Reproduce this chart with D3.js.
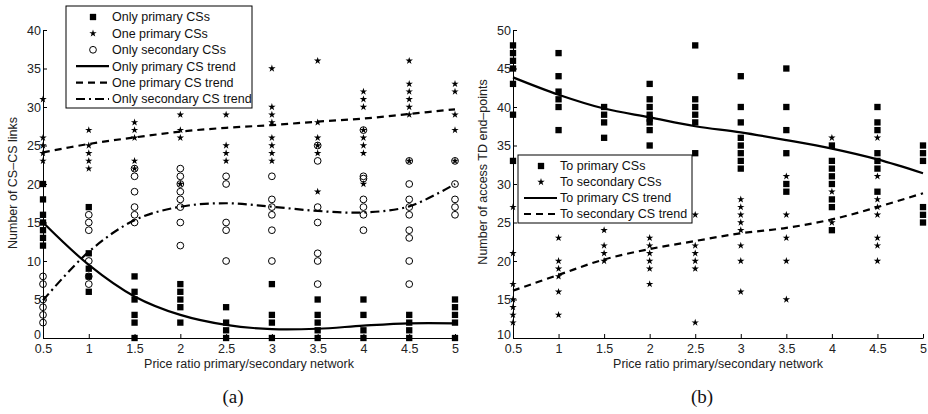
<!DOCTYPE html>
<html>
<head>
<meta charset="utf-8">
<script src="https://cdn.jsdelivr.net/npm/d3@7"></script>
<style>
  body { margin: 0; background: #fff; }
</style>
</head>
<body>
<script>
var xs = [0.5, 1, 1.5, 2, 2.5, 3, 3.5, 4, 4.5, 5];

// (a) points: one array of values per x
var onlyPrimary = [
  [20, 18, 16, 15, 14, 13, 12],
  [17, 11, 9, 8, 6],
  [8, 6, 5, 3, 2, 0],
  [7, 6, 5, 4, 2],
  [4, 2, 1, 0],
  [7, 3, 2, 0],
  [5, 3, 2, 1, 0],
  [5, 3, 1, 0],
  [3, 2, 1, 0],
  [5, 4, 3, 2, 0]
];
var onePrimary = [
  [31, 26, 25, 24, 23],
  [27, 25, 24, 23, 22],
  [28, 27, 26, 23, 22],
  [29, 27, 26, 20],
  [29, 25, 24, 23],
  [35, 30, 29, 28, 26, 25, 24, 23],
  [36, 28, 26, 25, 24, 19],
  [32, 31, 30, 27, 26, 25, 24, 20],
  [36, 33, 32, 31, 30, 29, 23],
  [33, 32, 29, 27, 23]
];
var onlySecondary = [
  [8, 7, 5, 4, 3, 2],
  [16, 15, 14, 10, 8, 7],
  [22, 21, 19, 17, 16, 15],
  [22, 21, 20, 19, 18, 17, 15, 12],
  [21, 20, 15, 14, 10],
  [21, 18, 17, 16, 14, 10],
  [25, 23, 17, 15, 11, 10, 7],
  [27, 21, 20.7, 18, 17, 16, 14],
  [23, 20, 18, 17, 16, 14, 13, 10, 7],
  [23, 20, 18, 17, 16]
];
var onlyPrimaryTrend = [15, 9.5, 5.4, 3.0, 1.7, 1.15, 1.2, 1.6, 1.9, 1.9];
var onePrimaryTrend = [24.1, 25.2, 26.05, 26.8, 27.3, 27.65, 28.1, 28.5, 29.1, 29.7];
var onlySecondaryTrend = [4.9, 11.2, 15.3, 17.05, 17.5, 17.05, 16.5, 16.3, 17.1, 20.0];

// (b) points
var toPrimary = [
  [48, 47, 46, 45, 43, 39, 33],
  [47, 44, 42, 41, 40, 37],
  [40, 39, 38, 36],
  [43, 41, 40, 39, 38.5, 38, 37, 35],
  [48, 41, 40, 39, 38, 34],
  [44, 40, 38, 36, 35, 34, 33, 32],
  [45, 40, 37, 34, 30, 29],
  [35, 33, 32, 31, 30, 28, 27, 24],
  [40, 38, 37, 34, 33, 32, 29],
  [35, 34, 33, 27, 26, 25]
];
var toSecondary = [
  [27, 21, 17, 15, 14, 13, 12],
  [23, 20, 19, 18, 16, 13],
  [24, 22, 21, 20],
  [23, 22, 21, 20, 19, 17],
  [26, 22, 21, 20, 19, 12],
  [28, 27, 26, 25, 24, 22, 20, 16],
  [31, 26, 23, 20, 15],
  [36, 29, 25],
  [36, 31, 28, 27, 26, 23, 22, 20],
  []
];
var toPrimaryTrend = [43.85, 41.6, 39.8, 38.65, 37.5, 36.7, 35.7, 34.6, 33.2, 31.4];
var toSecondaryTrend = [16.15, 18.2, 20.2, 21.55, 22.6, 23.6, 24.3, 25.4, 27.0, 28.8];

var xTicks = [0.5, 1, 1.5, 2, 2.5, 3, 3.5, 4, 4.5, 5];
var yTicksA = [0, 5, 10, 15, 20, 25, 30, 35, 40];
var yTicksB = [10, 15, 20, 25, 30, 35, 40, 45, 50];

var sans = "Liberation Sans, Arial, sans-serif";

var svg = d3.select("body").append("svg")
    .attr("width", 928)
    .attr("height", 414)
    .attr("font-family", sans);

function flatten(groups) {
  var out = [];
  groups.forEach(function(g, i) {
    g.forEach(function(v) { out.push({x: xs[i], y: v}); });
  });
  return out;
}

function makePanel(o) {
  var x = d3.scaleLinear().domain([0.5, 5]).range([o.left, o.right]);
  var y = d3.scaleLinear().domain(o.yDomain).range([338, 30]);
  var g = svg.append("g");

  var xAxis = g.append("g")
      .attr("transform", "translate(0,338)")
      .call(d3.axisBottom(x).tickValues(xTicks).tickSizeInner(-4).tickSizeOuter(0)
        .tickFormat(d3.format("")));
  var yAxis = g.append("g")
      .attr("transform", "translate(" + o.left + ",0)")
      .call(d3.axisLeft(y).tickValues(o.yTicks).tickSizeInner(-4).tickSizeOuter(0));
  [xAxis, yAxis].forEach(function(a) {
    a.attr("font-family", sans);
    a.select(".domain").attr("stroke", "#000");
    a.selectAll(".tick line").attr("stroke", "#000");
    a.selectAll("text").attr("font-size", 12.5).attr("fill", "#222");
  });
  xAxis.selectAll("text").attr("y", 6).attr("dy", "0.71em");
  yAxis.selectAll("text").attr("x", -2);
  // lowest y label sits a little higher, as in the original
  yAxis.selectAll("text").filter(function(d) { return d === o.yDomain[0]; })
      .attr("dy", "0.05em");

  g.append("text")
      .attr("x", (o.left + o.right) / 2)
      .attr("y", 368)
      .attr("text-anchor", "middle")
      .attr("font-size", 12.5)
      .attr("fill", "#222")
      .text("Price ratio primary/secondary network");

  g.append("text")
      .attr("transform", "translate(" + (o.left - 26) + "," + o.titleY + ") rotate(-90)")
      .attr("text-anchor", "middle")
      .attr("font-size", 12.5)
      .attr("fill", "#222")
      .text(o.yTitle);

  g.append("text")
      .attr("x", (o.left + o.right) / 2 - 16)
      .attr("y", 403)
      .attr("text-anchor", "middle")
      .style("font-family", "'Liberation Serif', 'DejaVu Serif', serif")
      .attr("font-size", 19)
      .attr("fill", "#111")
      .text(o.caption);

  o.scatters.forEach(function(s) {
    drawMarks(g, flatten(s.data), s.kind, x, y);
  });

  o.trends.forEach(function(t) {
    var line = d3.line()
        .x(function(d, i) { return x(xs[i]); })
        .y(function(d) { return y(d); })
        .curve(d3.curveCatmullRom.alpha(0.5));
    g.append("path")
        .datum(t.data)
        .attr("fill", "none")
        .attr("stroke", "#000")
        .attr("stroke-width", 2.2)
        .attr("stroke-dasharray", t.dash)
        .attr("d", line);
  });

  // legend
  var lg = g.append("g");
  lg.append("rect")
      .attr("x", o.legend.x).attr("y", o.legend.y)
      .attr("width", o.legend.w).attr("height", o.legend.h)
      .attr("fill", "#fff").attr("stroke", "#000").attr("stroke-width", 1);
  o.legend.items.forEach(function(it, i) {
    var cy = o.legend.y + 11 + i * o.legend.step;
    var sx = o.legend.x + o.legend.symX;
    if (it.kind) {
      drawMarks(lg, [{x: 0, y: 0}], it.kind,
        function() { return sx; }, function() { return cy; });
    } else {
      lg.append("line")
          .attr("x1", sx - 17).attr("x2", sx + 16)
          .attr("y1", cy).attr("y2", cy)
          .attr("stroke", "#000").attr("stroke-width", 2.2)
          .attr("stroke-dasharray", it.dash);
    }
    lg.append("text")
        .attr("x", sx + 19)
        .attr("y", cy)
        .attr("dy", "0.35em")
        .attr("font-size", 12.5)
        .attr("fill", "#111")
        .text(it.label);
  });
}

function drawMarks(g, pts, kind, x, y) {
  var sel = g.append("g").selectAll("path").data(pts).enter().append("path")
      .attr("transform", function(d) { return "translate(" + x(d.x) + "," + y(d.y) + ")"; });
  if (kind === "square") {
    sel.attr("d", d3.symbol().type(d3.symbolSquare).size(40)).attr("fill", "#000");
  } else if (kind === "star") {
    sel.attr("d", d3.symbol().type(d3.symbolStar).size(17)).attr("fill", "#000");
  } else {
    sel.attr("d", d3.symbol().type(d3.symbolCircle).size(36))
       .attr("fill", "none").attr("stroke", "#000").attr("stroke-width", 1);
  }
}

makePanel({
  left: 43, right: 455,
  yDomain: [0, 40], yTicks: yTicksA,
  yTitle: "Number of CS\u2013CS links", titleY: 183,
  caption: "(a)",
  scatters: [
    {data: onlyPrimary, kind: "square"},
    {data: onePrimary, kind: "star"},
    {data: onlySecondary, kind: "circle"}
  ],
  trends: [
    {data: onlyPrimaryTrend, dash: null},
    {data: onePrimaryTrend, dash: "7,5"},
    {data: onlySecondaryTrend, dash: "9,4,2,4"}
  ],
  legend: {
    x: 66, y: 6, w: 186, h: 102, step: 16.4, symX: 27,
    items: [
      {label: "Only primary CSs", kind: "square"},
      {label: "One primary CSs", kind: "star"},
      {label: "Only secondary CSs", kind: "circle"},
      {label: "Only primary CS trend", dash: null},
      {label: "One primary CS trend", dash: "7,5"},
      {label: "Only secondary CS trend", dash: "9,4,2,4"}
    ]
  }
});

makePanel({
  left: 513, right: 923,
  yDomain: [10, 50], yTicks: yTicksB,
  yTitle: "Number of access TD end\u2013points", titleY: 172,
  caption: "(b)",
  scatters: [
    {data: toPrimary, kind: "square"},
    {data: toSecondary, kind: "star"}
  ],
  trends: [
    {data: toPrimaryTrend, dash: null},
    {data: toSecondaryTrend, dash: "7,5"}
  ],
  legend: {
    x: 518, y: 155, w: 174, h: 68, step: 16, symX: 23,
    items: [
      {label: "To primary CSs", kind: "square"},
      {label: "To secondary CSs", kind: "star"},
      {label: "To primary CS trend", dash: null},
      {label: "To secondary CS trend", dash: "7,5"}
    ]
  }
});
</script>
</body>
</html>
